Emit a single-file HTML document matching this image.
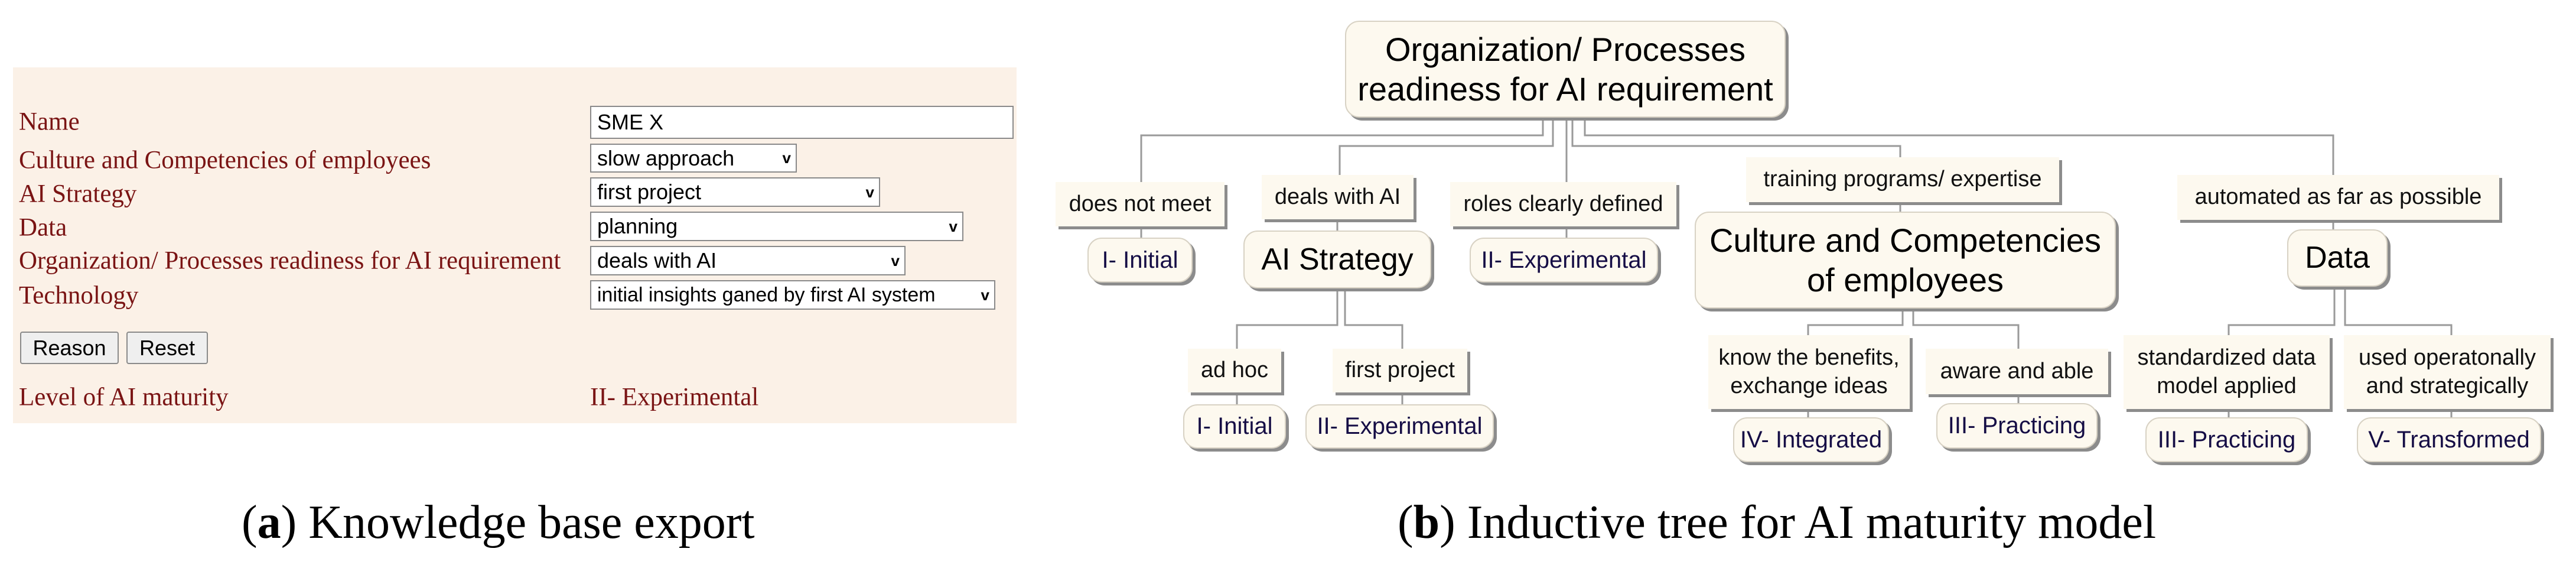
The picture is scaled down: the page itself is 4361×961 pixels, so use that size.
<!DOCTYPE html>
<html><head><meta charset="utf-8"><style>
body{margin:0;width:4361px;height:961px;background:#fff;position:relative;overflow:hidden;font-family:"Liberation Sans",sans-serif}
.a{position:absolute}
.panel{left:22px;top:114px;width:1699px;height:602px;background:#fbf1e7}
.lab{position:absolute;left:32px;font-family:"Liberation Serif",serif;font-size:43px;color:#7a1414;white-space:nowrap;transform:translateY(-50%)}
.inp{position:absolute;left:999px;background:#fff;border:2px solid #8a8a8a;box-sizing:border-box;font-size:36px;color:#000;display:flex;align-items:center;padding-left:10px;white-space:nowrap}
.inp .ar{position:absolute;right:8px;font-size:26px;font-weight:bold}
.btn{position:absolute;top:561px;height:55px;background:#efefef;border:2px solid #8a8a8a;border-radius:4px;box-sizing:border-box;font-size:36px;display:flex;align-items:center;justify-content:center}
.cap{position:absolute;top:844px;font-family:"Liberation Serif",serif;font-size:80px;line-height:1;white-space:nowrap}
.e{position:absolute;background:#fdf9ef;box-shadow:5px 5px 0 #8c8c8c;display:flex;align-items:center;justify-content:center;text-align:center;font-size:38px;line-height:1.25;white-space:nowrap;color:#111}
.n{position:absolute;background:#fdf9ef;border:2px solid #d8d2c4;border-radius:24px;box-shadow:5px 5px 0 #8c8c8c;display:flex;align-items:center;justify-content:center;text-align:center;font-size:40px;white-space:nowrap;color:#150d45;box-sizing:border-box}
.big{font-size:52px;color:#000;line-height:1.2}
svg{position:absolute;left:0;top:0}
</style></head><body>
<div class="a panel"></div>
<div class="lab" style="top:206px">Name</div>
<div class="lab" style="top:271px">Culture and Competencies of employees</div>
<div class="lab" style="top:328px">AI Strategy</div>
<div class="lab" style="top:385px">Data</div>
<div class="lab" style="top:441px">Organization/ Processes readiness for AI requirement</div>
<div class="lab" style="top:500px">Technology</div>
<div class="lab" style="top:672px">Level of AI maturity</div>
<div class="lab" style="top:672px;left:999px">II- Experimental</div>
<div class="inp" style="top:179px;width:717px;height:56px">SME X</div>
<div class="inp" style="top:243px;width:350px;height:49px">slow approach<span class="ar">v</span></div>
<div class="inp" style="top:300px;width:491px;height:50px">first project<span class="ar">v</span></div>
<div class="inp" style="top:358px;width:632px;height:50px">planning<span class="ar">v</span></div>
<div class="inp" style="top:416px;width:534px;height:50px">deals with AI<span class="ar">v</span></div>
<div class="inp" style="top:474px;width:686px;height:50px;font-size:34px">initial insights ganed by first AI system<span class="ar">v</span></div>
<div class="btn" style="left:34px;width:167px">Reason</div>
<div class="btn" style="left:214px;width:138px">Reset</div>
<div class="cap" style="left:409px">(<b>a</b>) Knowledge base export</div>
<div class="cap" style="left:2366px">(<b>b</b>) Inductive tree for AI maturity model</div>

<svg width="4361" height="961" stroke="#9a9a9a" stroke-width="3" fill="none">
<path d="M2612 199V229H1932V308"/>
<path d="M2629 199V247H2268V296"/>
<path d="M2652 199V308"/>
<path d="M2662 199V247H3217V266"/>
<path d="M2683 199V229H3950V296"/>
<path d="M1932 383V402M2264 371V390M2652 383V402"/>
<path d="M2264 488V550H2094V590M2277 488V550H2374V590"/>
<path d="M2094 664V684M2374 664V684"/>
<path d="M3217 342V358"/>
<path d="M3221 522V550H3061V567M3239 522V550H3417V590"/>
<path d="M3061 692V706M3417 667V682"/>
<path d="M3950 372V388"/>
<path d="M3952 485V550H3773V567M3970 485V550H4150V567"/>
<path d="M3773 692V706M4150 692V706"/>
</svg>

<div class="n big" style="left:2277px;top:35px;width:746px;height:164px;font-size:56px">Organization/ Processes<br>readiness for AI requirement</div>
<div class="e" style="left:1787px;top:308px;width:286px;height:75px">does not meet</div>
<div class="n" style="left:1841px;top:402px;width:178px;height:76px">I- Initial</div>
<div class="e" style="left:2136px;top:296px;width:257px;height:75px">deals with AI</div>
<div class="n big" style="left:2105px;top:390px;width:318px;height:98px">AI Strategy</div>
<div class="e" style="left:2455px;top:308px;width:383px;height:75px">roles clearly defined</div>
<div class="n" style="left:2488px;top:402px;width:319px;height:76px">II- Experimental</div>
<div class="e" style="left:2011px;top:590px;width:158px;height:74px">ad hoc</div>
<div class="e" style="left:2256px;top:590px;width:228px;height:74px">first project</div>
<div class="n" style="left:2003px;top:684px;width:174px;height:75px">I- Initial</div>
<div class="n" style="left:2210px;top:684px;width:319px;height:75px">II- Experimental</div>
<div class="e" style="left:2956px;top:266px;width:530px;height:76px">training programs/ expertise</div>
<div class="n big" style="left:2869px;top:358px;width:713px;height:164px;font-size:56px">Culture and Competencies<br>of employees</div>
<div class="e" style="left:3686px;top:296px;width:545px;height:76px">automated as far as possible</div>
<div class="n big" style="left:3872px;top:388px;width:170px;height:97px">Data</div>
<div class="e" style="left:2892px;top:567px;width:341px;height:125px">know the benefits,<br>exchange ideas</div>
<div class="e" style="left:3260px;top:590px;width:309px;height:77px">aware and able</div>
<div class="n" style="left:2934px;top:706px;width:264px;height:76px">IV- Integrated</div>
<div class="n" style="left:3278px;top:682px;width:273px;height:77px">III- Practicing</div>
<div class="e" style="left:3595px;top:567px;width:349px;height:125px">standardized data<br>model applied</div>
<div class="e" style="left:3968px;top:567px;width:350px;height:125px">used operatonally<br>and strategically</div>
<div class="n" style="left:3632px;top:706px;width:275px;height:76px">III- Practicing</div>
<div class="n" style="left:3990px;top:706px;width:312px;height:76px">V- Transformed</div>
</body></html>
